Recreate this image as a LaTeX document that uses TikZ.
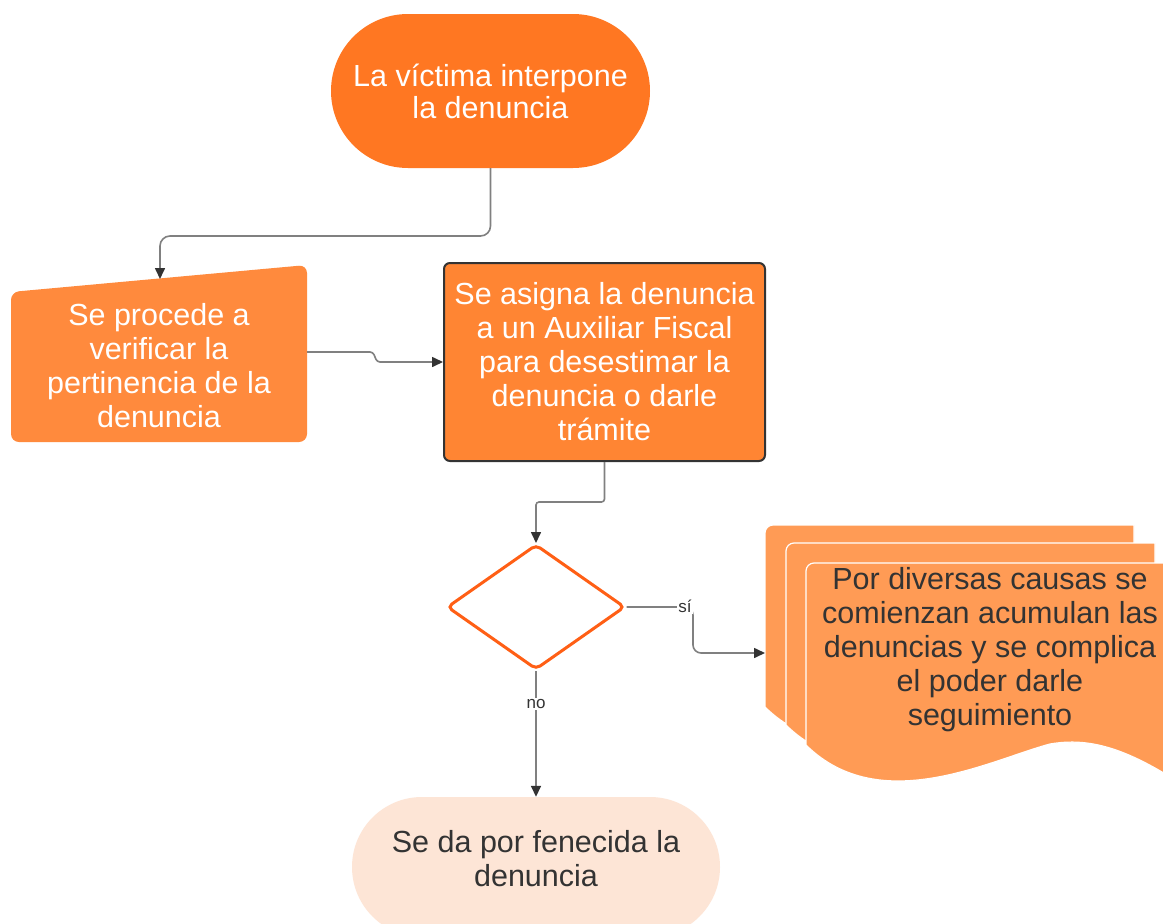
\documentclass[tikz,border=0pt]{standalone}
\usepackage{fontspec}
\setmainfont{Liberation Sans}
\usetikzlibrary{shapes.geometric,arrows.meta}
\definecolor{cStart}{HTML}{FF7722}
\definecolor{cVer}{HTML}{FF8A3D}
\definecolor{cProc}{HTML}{FF8533}
\definecolor{cDoc}{HTML}{FF9B55}
\definecolor{cEnd}{HTML}{FDE5D6}
\definecolor{cDia}{HTML}{FF5F15}
\definecolor{cLine}{HTML}{808080}
\definecolor{cTip}{HTML}{333333}
\definecolor{cTxt}{HTML}{333333}
\begin{document}
\begin{tikzpicture}[x=1pt,y=-1pt,
  wtxt/.style={text=white,align=center,font=\fontsize{30.5}{34}\selectfont},
  dtxt/.style={text=cTxt,align=center,font=\fontsize{30.5}{34}\selectfont},
  conn/.style={draw=cLine,line width=1.6pt,-{Triangle[length=11pt,width=10pt,color=cTip]}},
  lbl/.style={fill=white,text=cTxt,inner sep=1.5pt,font=\fontsize{17}{19}\selectfont},
  page/.style={fill=cDoc,draw=white,line width=1.2pt}]
\useasboundingbox[fill=white] (0,0) rectangle (1163,924);

% start terminal
\node[wtxt,fill=cStart,rounded corners=77pt,minimum width=319pt,minimum height=154pt,inner sep=0pt,font=\fontsize{30.5}{32}\selectfont] (start) at (490.5,91) {La víctima interpone\\la denuncia};

% manual input
\fill[cVer,rounded corners=8pt] (11,292) -- (307,265) -- (307,442) -- (11,442) -- cycle;
\node[wtxt,minimum width=296pt,minimum height=150pt,inner sep=0pt] (verif) at (159,366) {Se procede a\\verificar la\\pertinencia de la\\denuncia};
\coordinate (verifin) at (160,279);

% process
\node[wtxt,fill=cProc,draw=cTip,line width=2pt,rounded corners=6pt,minimum width=321pt,minimum height=198pt,inner sep=0pt] (proc) at (604.5,362) {Se asigna la denuncia\\a un Auxiliar Fiscal\\para desestimar la\\denuncia o darle\\trámite};

% decision
\node[diamond,draw=cDia,fill=white,line width=3pt,rounded corners=5pt,minimum width=178pt,minimum height=125pt,aspect=1.42,inner sep=0pt] (dec) at (536,607) {};

% multi-document
\foreach \dx/\dy in {-41/-38,-20/-20,0/0}{
  \begin{scope}[shift={(\dx,\dy)}]
    \path[page] (806,745) -- (806,571) arc[start angle=180,end angle=90,radius=8pt] -- (1167,563) -- (1175,563) -- (1175,780)
      .. controls (1120,745) and (1085,738) .. (1050,744)
      .. controls (990,760) and (880,818) .. (806,745) -- cycle;
  \end{scope}
}
\node[dtxt,inner sep=0pt] (doc) at (990,650) {Por diversas causas se\\comienzan acumulan las\\denuncias y se complica\\el poder darle\\seguimiento};
\coordinate (docin) at (765,653);

% end terminal
\node[fill=cEnd,rounded corners=70pt,minimum width=368pt,minimum height=140pt,inner sep=0pt] (fin) at (536,867) {};
\node[dtxt,inner sep=0pt] (fintxt) at (536,859) {Se da por fenecida la\\denuncia};

% connectors
\draw[conn,rounded corners=10pt] (start.south) -- (490.5,236) -- (160,236) -- (verifin);
\draw[conn,rounded corners=3pt] (verif.east |- 0,352) -- (373,352) -- (377,362) -- (proc.west |- 0,362);
\draw[conn,rounded corners=3pt] (proc.south) -- (604.5,502) -- (536,502) -- (dec.north);
\draw[conn,rounded corners=8pt] (dec.east) -- (693,607) -- (693,653) -- (docin);
\node[lbl] (si) at (685,606) {sí};
\draw[conn] (dec.south) -- (fin.north);
\node[lbl] (no) at (536,704) {no};
\end{tikzpicture}
\end{document}
